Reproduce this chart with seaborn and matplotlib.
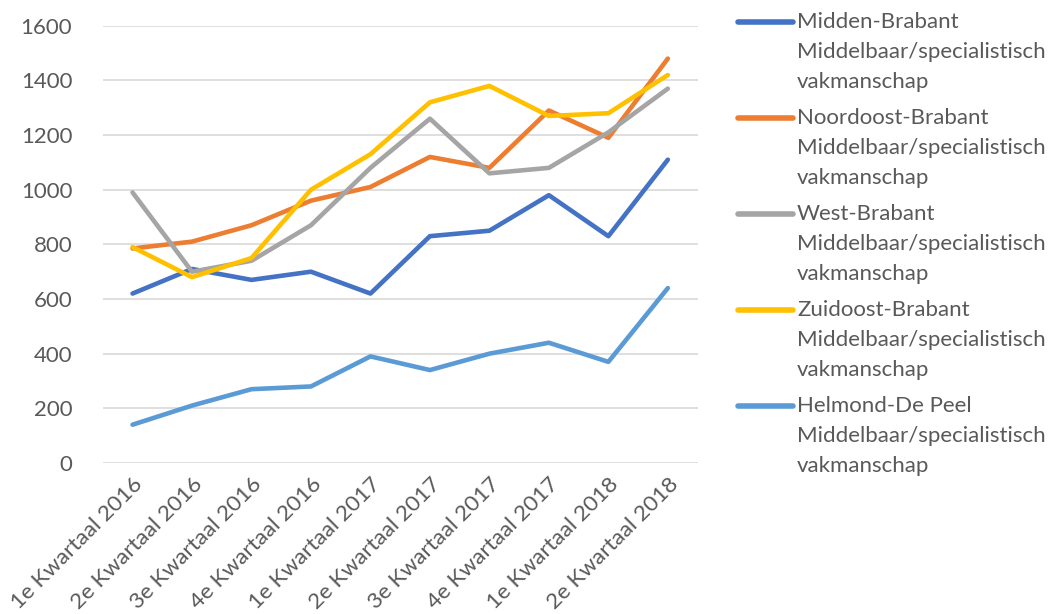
import matplotlib
matplotlib.use("Agg")
import pandas as pd
import seaborn as sns
import matplotlib.pyplot as plt
from matplotlib.lines import Line2D

# Data
quarters = [
    "1e Kwartaal 2016", "2e Kwartaal 2016", "3e Kwartaal 2016", "4e Kwartaal 2016",
    "1e Kwartaal 2017", "2e Kwartaal 2017", "3e Kwartaal 2017", "4e Kwartaal 2017",
    "1e Kwartaal 2018", "2e Kwartaal 2018",
]
midden_brabant = [620, 710, 670, 700, 620, 830, 850, 980, 830, 1110]
noordoost_brabant = [785, 810, 870, 960, 1010, 1120, 1080, 1290, 1190, 1480]
west_brabant = [990, 700, 740, 870, 1080, 1260, 1060, 1080, 1210, 1370]
zuidoost_brabant = [790, 680, 750, 1000, 1130, 1320, 1380, 1270, 1280, 1420]
helmond_de_peel = [140, 210, 270, 280, 390, 340, 400, 440, 370, 640]

regions = ["Midden-Brabant", "Noordoost-Brabant", "West-Brabant",
           "Zuidoost-Brabant", "Helmond-De Peel"]
suffix_lines = ["Middelbaar/specialistisch", "vakmanschap"]
colors = ["#4472C4", "#ED7D31", "#A5A5A5", "#FFC000", "#5B9BD5"]

df = pd.DataFrame({"kwartaal": quarters})
for name, vals in zip(regions, [midden_brabant, noordoost_brabant,
                                west_brabant, zuidoost_brabant,
                                helmond_de_peel]):
    df[name] = vals
long_df = df.melt(id_vars="kwartaal", var_name="reeks", value_name="aantal")
long_df["pos"] = long_df["kwartaal"].map({q: i for i, q in enumerate(quarters)})

sns.set_style("white")
plt.rcParams["font.family"] = ["Lato", "DejaVu Sans"]
text_color = "#595959"

W, H = 1049, 614
fig = plt.figure(figsize=(W / 100, H / 100), dpi=100)
ax = fig.add_axes([0.098, 0.246, 0.567, 0.712])

sns.lineplot(data=long_df, x="pos", y="aantal", hue="reeks",
             hue_order=regions, palette=colors, linewidth=3.3,
             sort=False, ax=ax)

ax.set_xlim(-0.5, len(quarters) - 0.5)
ax.set_ylim(0, 1600)
ax.set_yticks(range(0, 1601, 200))
ax.set_xticks(range(len(quarters)))
ax.set_xticklabels(quarters, rotation=45, ha="right", rotation_mode="anchor",
                   fontsize=16.2)
ax.yaxis.grid(True, color="#D9D9D9", linewidth=1.2)
ax.xaxis.grid(False)
ax.set_axisbelow(True)
for s in ax.spines.values():
    s.set_visible(False)
ax.tick_params(axis="both", length=0, colors=text_color)
ax.tick_params(axis="y", pad=22, labelsize=16)
ax.tick_params(axis="x", pad=8)
ax.set_xlabel("")
ax.set_ylabel("")

# legend: handle on first line, label on three lines
handles, labels = ax.get_legend_handles_labels()
ax.legend_.remove()
for i, (h, lab) in enumerate(zip(handles, labels)):
    y0 = 22 + 96 * i
    fig.add_artist(Line2D([738 / W, 793 / W], [1 - y0 / H, 1 - y0 / H],
                          transform=fig.transFigure, color=h.get_color(),
                          linewidth=4, solid_capstyle="round"))
    for j, txt in enumerate([lab] + suffix_lines):
        fig.text(797 / W, 1 - (y0 + 30 * j) / H, txt, fontsize=16,
                 color=text_color, va="center", ha="left")

fig.savefig("out.png", dpi=100)
